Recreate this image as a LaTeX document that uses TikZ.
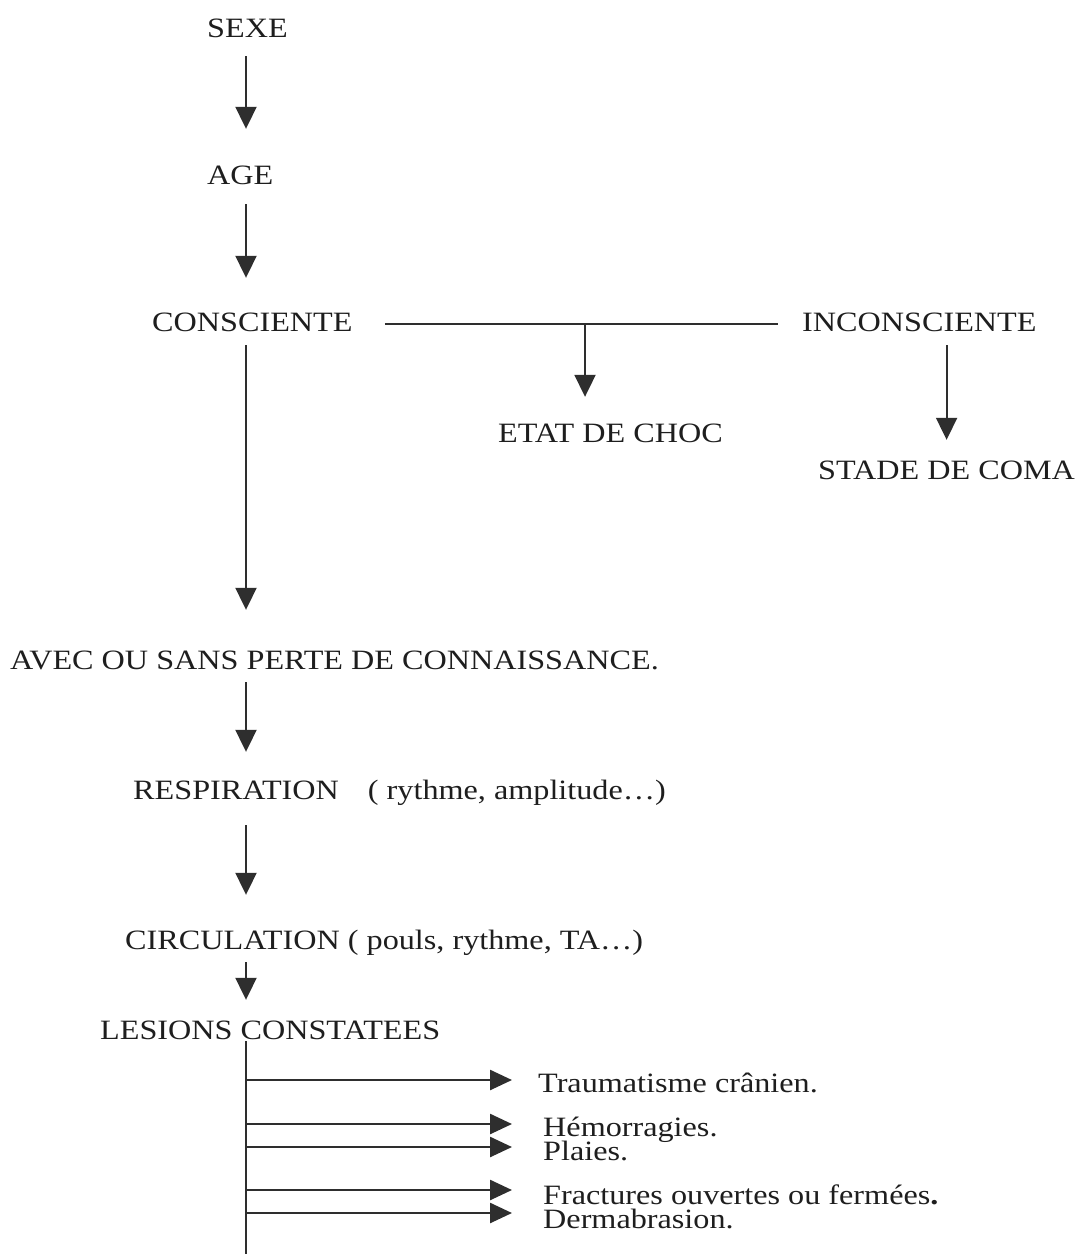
\documentclass[tikz,border=0pt]{standalone}
\usepackage{fontspec}
\setmainfont{Liberation Serif}[FakeStretch=1.15]
\usetikzlibrary{arrows.meta}
\definecolor{ink}{HTML}{1E1E1E}
\definecolor{linegray}{HTML}{2E2E2E}
\begin{document}
\begin{tikzpicture}[x=1pt,y=-1pt,
  lbl/.style={inner sep=0pt, text height=19pt, text depth=5pt, anchor=base west,
              text=ink, font=\fontsize{28}{32}\selectfont},
  arr/.style={draw=linegray, line width=2pt, -{Triangle[length=22pt,width=21pt]}},
  harr/.style={draw=linegray, line width=2.5pt, -{Triangle[length=22pt,width=20pt]}},
  bar/.style={draw=linegray, line width=2.8pt},
  stem/.style={draw=linegray, line width=2pt}]
\fill[white] (0,0) rectangle (1078,1254);
\useasboundingbox (0,0) rectangle (1078,1254);

% labels
\node[lbl] (sexe)    at (207,37)   {SEXE};
\node[lbl] (age)     at (207,184)  {AGE};
\node[lbl] (consc)   at (152,331)  {CONSCIENTE};
\node[lbl] (inconsc) at (802,331)  {INCONSCIENTE};
\node[lbl] (etat)    at (498,442)  {ETAT DE CHOC};
\node[lbl] (stade)   at (818,479)  {STADE DE COMA};
\node[lbl] (perte)   at (10,669)   {AVEC OU SANS PERTE DE CONNAISSANCE.};
\node[lbl] (resp)    at (133,799)  {RESPIRATION\hspace{21pt} ( rythme, amplitude…)};
\node[lbl] (circ)    at (125,949)  {CIRCULATION ( pouls, rythme, TA…)};
\node[lbl] (lesions) at (100,1039) {LESIONS CONSTATEES};
\node[lbl] (trauma)  at (538,1092) {Traumatisme crânien.};
\node[lbl] (hemo)    at (543,1136) {Hémorragies.};
\node[lbl] (plaies)  at (543,1160) {Plaies.};
\node[lbl] (fract)   at (543,1204) {Fractures ouvertes ou fermées\textbf{.}};
\node[lbl] (derma)   at (543,1228) {Dermabrasion.};

% main vertical chain
\coordinate (trunk) at (246,0);
\draw[arr, shorten <=14pt, shorten >=36pt] (sexe.south -| trunk) -- (age.north -| trunk);
\draw[arr, shorten <=15pt, shorten >=34pt] (age.south -| trunk) -- (consc.north -| trunk);
\draw[arr, shorten <=9pt,  shorten >=40pt] (consc.south -| trunk) -- (perte.north -| trunk);
\draw[arr, shorten <=8pt,  shorten >=28pt] (perte.south -| trunk) -- (resp.north -| trunk);
\draw[arr, shorten <=21pt, shorten >=35pt] (resp.south -| trunk) -- (circ.north -| trunk);
\draw[arr, shorten <=8pt,  shorten >=20pt] (circ.south -| trunk) -- (lesions.north -| trunk);

% conscious / unconscious bar
\draw[bar, shorten <=32pt, shorten >=24pt] (consc.east) -- (inconsc.west);
\path (consc.east) -- (inconsc.west) coordinate[pos=0.517] (split);
\draw[arr, shorten >=26pt] (split) -- (split |- etat.north);
\draw[arr, shorten <=9pt, shorten >=20pt] (inconsc.south -| stade.north) -- (stade.north);

% lesions stem and branches
\coordinate (trunkend) at (246,1254);
\draw[stem, shorten <=-3pt] (lesions.south -| trunk) -- (trunkend);
\coordinate (b1) at (246,1080);
\coordinate (b2) at (246,1124);
\coordinate (b3) at (246,1147);
\coordinate (b4) at (246,1190);
\coordinate (b5) at (246,1213);
\draw[harr, shorten >=26pt] (b1) -- (b1 -| trauma.west);
\draw[harr, shorten >=31pt] (b2) -- (b2 -| hemo.west);
\draw[harr, shorten >=31pt] (b3) -- (b3 -| plaies.west);
\draw[harr, shorten >=31pt] (b4) -- (b4 -| fract.west);
\draw[harr, shorten >=31pt] (b5) -- (b5 -| derma.west);
\end{tikzpicture}
\end{document}
